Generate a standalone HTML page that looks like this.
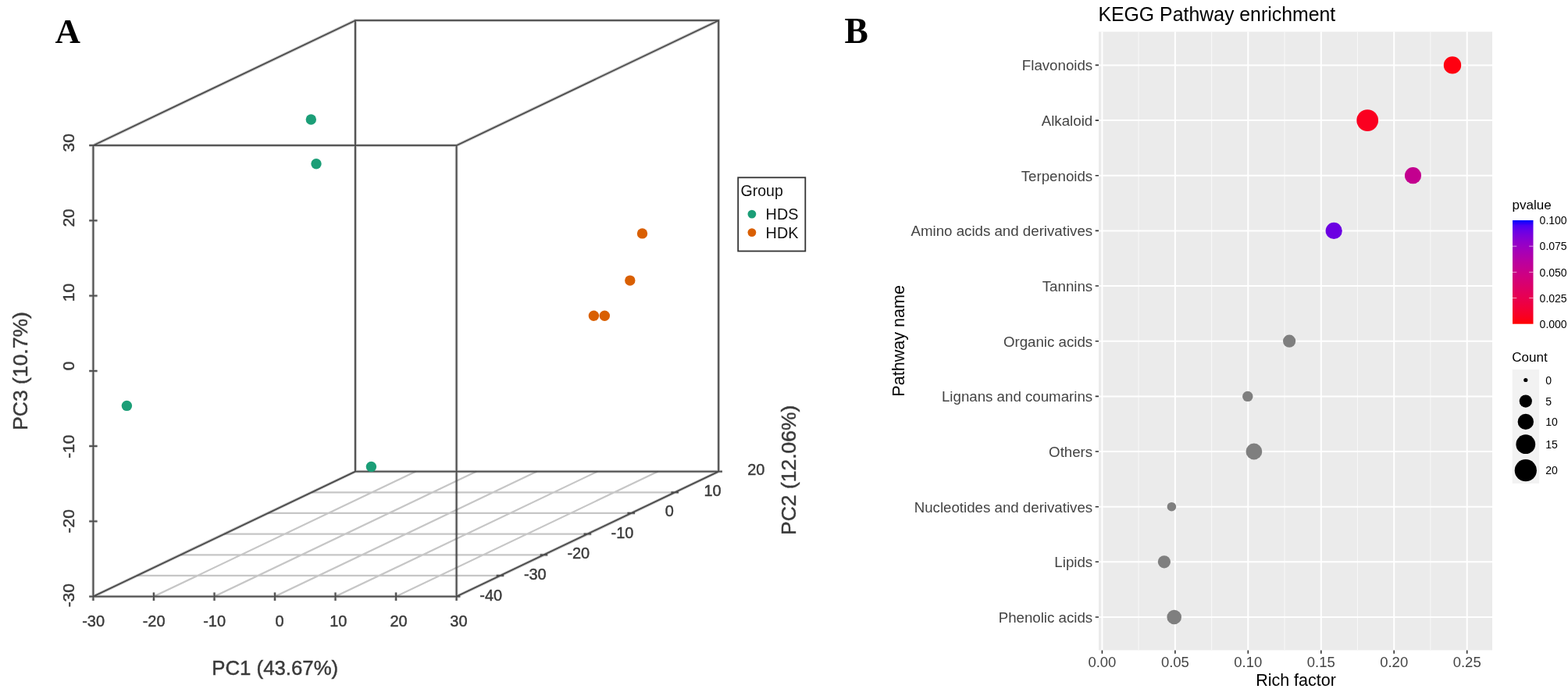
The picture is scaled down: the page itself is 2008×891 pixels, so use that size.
<!DOCTYPE html><html><head><meta charset="utf-8"><title>Figure</title><style>html,body{margin:0;padding:0;background:#fff;overflow:hidden;}svg{display:block;}text{font-family:"Liberation Sans",Arial,sans-serif;}</style></head><body>
<svg width="2008" height="891" viewBox="0 0 2008 891">
<defs><linearGradient id="pg" x1="0" y1="1" x2="0" y2="0">
<stop offset="0.00" stop-color="#ff0000"/>
<stop offset="0.05" stop-color="#fb001a"/>
<stop offset="0.10" stop-color="#f6002a"/>
<stop offset="0.15" stop-color="#f20037"/>
<stop offset="0.20" stop-color="#ed0044"/>
<stop offset="0.25" stop-color="#e80050"/>
<stop offset="0.30" stop-color="#e3005b"/>
<stop offset="0.35" stop-color="#dd0066"/>
<stop offset="0.40" stop-color="#d70072"/>
<stop offset="0.45" stop-color="#d1007d"/>
<stop offset="0.50" stop-color="#ca0088"/>
<stop offset="0.55" stop-color="#c20094"/>
<stop offset="0.60" stop-color="#ba009f"/>
<stop offset="0.65" stop-color="#b000ab"/>
<stop offset="0.70" stop-color="#a600b7"/>
<stop offset="0.75" stop-color="#9a00c3"/>
<stop offset="0.80" stop-color="#8d00ce"/>
<stop offset="0.85" stop-color="#7c00da"/>
<stop offset="0.90" stop-color="#6800e7"/>
<stop offset="0.95" stop-color="#4b00f3"/>
<stop offset="1.00" stop-color="#0000ff"/>
</linearGradient><filter id="bl" filterUnits="userSpaceOnUse" x="0" y="0" width="1060" height="891"><feGaussianBlur stdDeviation="0.8"/></filter></defs>
<rect width="2008" height="891" fill="#fff"/>
<text x="70.6" y="54.8" style="font-family:'Liberation Serif',serif;font-weight:bold;font-size:45px" fill="#000">A</text>
<path d="M196.9 763.6L532.5 603.6M274.5 763.6L610.1 603.6M352.0 763.6L687.6 603.6M429.5 763.6L765.1 603.6M507.1 763.6L842.7 603.6M175.3 736.9L640.5 736.9M231.3 710.3L696.5 710.3M287.2 683.6L752.4 683.6M343.1 656.9L808.3 656.9M399.1 630.3L864.3 630.3" stroke="#c6c6c6" stroke-width="2.2" fill="none"/>
<path d="M119.4 186.2L584.6 186.2L584.6 763.6L119.4 763.6ZM455.0 26.2L920.2 26.2L920.2 603.6L455.0 603.6ZM119.4 186.2L455.0 26.2M584.6 186.2L920.2 26.2M119.4 763.6L455.0 603.6M584.6 763.6L920.2 603.6M119.4 758.6L119.4 769.1M196.9 758.6L196.9 769.1M274.5 758.6L274.5 769.1M352.0 758.6L352.0 769.1M429.5 758.6L429.5 769.1M507.1 758.6L507.1 769.1M584.6 758.6L584.6 769.1M114.2 763.6L124.6 763.6M114.2 667.4L124.6 667.4M114.2 571.1L124.6 571.1M114.2 474.9L124.6 474.9M114.2 378.7L124.6 378.7M114.2 282.4L124.6 282.4M114.2 186.2L124.6 186.2M579.8 763.6L589.4 763.6M635.7 736.9L645.3 736.9M691.7 710.3L701.3 710.3M747.6 683.6L757.2 683.6M803.5 656.9L813.1 656.9M859.5 630.3L869.1 630.3M915.4 603.6L925.0 603.6" stroke="#000" stroke-opacity="0.22" stroke-width="3.8" fill="none"/>
<path d="M119.4 186.2L584.6 186.2L584.6 763.6L119.4 763.6ZM455.0 26.2L920.2 26.2L920.2 603.6L455.0 603.6ZM119.4 186.2L455.0 26.2M584.6 186.2L920.2 26.2M119.4 763.6L455.0 603.6M584.6 763.6L920.2 603.6M119.4 758.6L119.4 769.1M196.9 758.6L196.9 769.1M274.5 758.6L274.5 769.1M352.0 758.6L352.0 769.1M429.5 758.6L429.5 769.1M507.1 758.6L507.1 769.1M584.6 758.6L584.6 769.1M114.2 763.6L124.6 763.6M114.2 667.4L124.6 667.4M114.2 571.1L124.6 571.1M114.2 474.9L124.6 474.9M114.2 378.7L124.6 378.7M114.2 282.4L124.6 282.4M114.2 186.2L124.6 186.2M579.8 763.6L589.4 763.6M635.7 736.9L645.3 736.9M691.7 710.3L701.3 710.3M747.6 683.6L757.2 683.6M803.5 656.9L813.1 656.9M859.5 630.3L869.1 630.3M915.4 603.6L925.0 603.6" stroke="#4a4a4a" stroke-width="1.8" fill="none" stroke-linecap="butt"/>
<circle cx="398.3" cy="153.0" r="6.7" fill="#1b9e77"/>
<circle cx="405.0" cy="209.8" r="6.7" fill="#1b9e77"/>
<circle cx="162.4" cy="519.4" r="6.7" fill="#1b9e77"/>
<circle cx="475.4" cy="597.4" r="6.7" fill="#1b9e77"/>
<circle cx="822.5" cy="298.9" r="6.7" fill="#d95f02"/>
<circle cx="806.8" cy="359.1" r="6.7" fill="#d95f02"/>
<circle cx="760.4" cy="404.2" r="6.7" fill="#d95f02"/>
<circle cx="774.3" cy="404.2" r="6.7" fill="#d95f02"/>
<g stroke="#3a3a3a" stroke-width="0.45">
<text transform="translate(119.60 802.30) scale(0.95 1)" font-size="21" text-anchor="middle" fill="#3a3a3a">-30</text>
<text transform="translate(197.10 802.30) scale(0.95 1)" font-size="21" text-anchor="middle" fill="#3a3a3a">-20</text>
<text transform="translate(274.60 802.30) scale(0.95 1)" font-size="21" text-anchor="middle" fill="#3a3a3a">-10</text>
<text transform="translate(358.00 802.30) scale(0.95 1)" font-size="21" text-anchor="middle" fill="#3a3a3a">0</text>
<text transform="translate(433.30 802.30) scale(0.95 1)" font-size="21" text-anchor="middle" fill="#3a3a3a">10</text>
<text transform="translate(510.50 802.30) scale(0.95 1)" font-size="21" text-anchor="middle" fill="#3a3a3a">20</text>
<text transform="translate(587.40 802.30) scale(0.95 1)" font-size="21" text-anchor="middle" fill="#3a3a3a">30</text>
<text transform="translate(94.90 182.80) rotate(-90)" font-size="21" text-anchor="middle" fill="#3a3a3a">30</text>
<text transform="translate(94.90 278.90) rotate(-90)" font-size="21" text-anchor="middle" fill="#3a3a3a">20</text>
<text transform="translate(94.90 374.50) rotate(-90)" font-size="21" text-anchor="middle" fill="#3a3a3a">10</text>
<text transform="translate(94.90 468.30) rotate(-90)" font-size="21" text-anchor="middle" fill="#3a3a3a">0</text>
<text transform="translate(94.90 571.70) rotate(-90)" font-size="21" text-anchor="middle" fill="#3a3a3a">-10</text>
<text transform="translate(94.90 667.30) rotate(-90)" font-size="21" text-anchor="middle" fill="#3a3a3a">-20</text>
<text transform="translate(94.90 762.20) rotate(-90)" font-size="21" text-anchor="middle" fill="#3a3a3a">-30</text>
<text transform="translate(628.70 769.20) scale(0.95 1)" font-size="21" text-anchor="middle" fill="#3a3a3a">-40</text>
<text transform="translate(685.30 742.30) scale(0.95 1)" font-size="21" text-anchor="middle" fill="#3a3a3a">-30</text>
<text transform="translate(740.80 715.20) scale(0.95 1)" font-size="21" text-anchor="middle" fill="#3a3a3a">-20</text>
<text transform="translate(797.00 689.00) scale(0.95 1)" font-size="21" text-anchor="middle" fill="#3a3a3a">-10</text>
<text transform="translate(857.20 661.40) scale(0.95 1)" font-size="21" text-anchor="middle" fill="#3a3a3a">0</text>
<text transform="translate(912.50 634.90) scale(0.95 1)" font-size="21" text-anchor="middle" fill="#3a3a3a">10</text>
<text transform="translate(968.30 608.20) scale(0.95 1)" font-size="21" text-anchor="middle" fill="#3a3a3a">20</text>
<text transform="translate(352.20 863.60)" font-size="25.8" text-anchor="middle" fill="#3a3a3a">PC1 (43.67%)</text>
<text transform="translate(34.60 475.00) rotate(-90)" font-size="26.5" text-anchor="middle" fill="#3a3a3a">PC3 (10.7%)</text>
<text transform="translate(1019.30 601.80) rotate(-90)" font-size="26.5" text-anchor="middle" fill="#3a3a3a">PC2 (12.06%)</text>
</g>
<rect x="945.2" y="227.3" width="86.1" height="94.2" fill="#fff" stroke="#333" stroke-width="1.8"/>
<text transform="translate(948.60 250.50)" font-size="19.5" fill="#111">Group</text>
<circle cx="962.9" cy="274.1" r="5.4" fill="#1b9e77"/><circle cx="962.9" cy="297.6" r="5.4" fill="#d95f02"/>
<text transform="translate(980.60 281.30)" font-size="19.8" fill="#111">HDS</text>
<text transform="translate(980.60 304.50)" font-size="19.8" fill="#111">HDK</text>
<text x="1081.4" y="54.6" style="font-family:'Liberation Serif',serif;font-weight:bold;font-size:45.5px" fill="#000">B</text>
<rect x="1407.0" y="40.6" width="504.0" height="791.8" fill="#ebebeb"/>
<path d="M1458.1 40.6L1458.1 832.4M1551.6 40.6L1551.6 832.4M1645.0 40.6L1645.0 832.4M1738.5 40.6L1738.5 832.4M1831.9 40.6L1831.9 832.4" stroke="#f7f7f7" stroke-width="1.1" fill="none"/>
<path d="M1411.4 40.6L1411.4 832.4M1504.9 40.6L1504.9 832.4M1598.3 40.6L1598.3 832.4M1691.8 40.6L1691.8 832.4M1785.2 40.6L1785.2 832.4M1878.7 40.6L1878.7 832.4M1407.0 83.4L1911.0 83.4M1407.0 154.1L1911.0 154.1M1407.0 224.7L1911.0 224.7M1407.0 295.4L1911.0 295.4M1407.0 366.0L1911.0 366.0M1407.0 436.7L1911.0 436.7M1407.0 507.4L1911.0 507.4M1407.0 578.0L1911.0 578.0M1407.0 648.7L1911.0 648.7M1407.0 719.3L1911.0 719.3M1407.0 790.0L1911.0 790.0" stroke="#fff" stroke-width="2" fill="none"/>
<circle cx="1860.0" cy="83.4" r="11.2" fill="#ff0010"/>
<circle cx="1751.2" cy="154.1" r="13.9" fill="#fa0020"/>
<circle cx="1809.5" cy="224.7" r="10.6" fill="#c3008f"/>
<circle cx="1708.2" cy="295.4" r="10.6" fill="#6c00e2"/>
<circle cx="1651.1" cy="436.7" r="8.1" fill="#7f7f7f"/>
<circle cx="1597.8" cy="507.4" r="6.7" fill="#7f7f7f"/>
<circle cx="1605.9" cy="578.0" r="10.4" fill="#7f7f7f"/>
<circle cx="1500.4" cy="648.7" r="5.8" fill="#7f7f7f"/>
<circle cx="1490.9" cy="719.3" r="8.1" fill="#7f7f7f"/>
<circle cx="1503.7" cy="790.0" r="9.3" fill="#7f7f7f"/>
<path d="M1402.7 83.4L1407.0 83.4M1402.7 154.1L1407.0 154.1M1402.7 224.7L1407.0 224.7M1402.7 295.4L1407.0 295.4M1402.7 366.0L1407.0 366.0M1402.7 436.7L1407.0 436.7M1402.7 507.4L1407.0 507.4M1402.7 578.0L1407.0 578.0M1402.7 648.7L1407.0 648.7M1402.7 719.3L1407.0 719.3M1402.7 790.0L1407.0 790.0M1411.4 832.4L1411.4 836.7M1504.9 832.4L1504.9 836.7M1598.3 832.4L1598.3 836.7M1691.8 832.4L1691.8 836.7M1785.2 832.4L1785.2 836.7M1878.7 832.4L1878.7 836.7" stroke="#333" stroke-width="1.6" fill="none"/>
<text x="1399.2" y="90.4" font-size="18.7" text-anchor="end" fill="#444">Flavonoids</text>
<text x="1399.2" y="161.1" font-size="18.7" text-anchor="end" fill="#444">Alkaloid</text>
<text x="1399.2" y="231.7" font-size="18.7" text-anchor="end" fill="#444">Terpenoids</text>
<text x="1399.2" y="302.4" font-size="18.7" text-anchor="end" fill="#444">Amino acids and derivatives</text>
<text x="1399.2" y="373.0" font-size="18.7" text-anchor="end" fill="#444">Tannins</text>
<text x="1399.2" y="443.7" font-size="18.7" text-anchor="end" fill="#444">Organic acids</text>
<text x="1399.2" y="514.4" font-size="18.7" text-anchor="end" fill="#444">Lignans and coumarins</text>
<text x="1399.2" y="585.0" font-size="18.7" text-anchor="end" fill="#444">Others</text>
<text x="1399.2" y="655.7" font-size="18.7" text-anchor="end" fill="#444">Nucleotides and derivatives</text>
<text x="1399.2" y="726.3" font-size="18.7" text-anchor="end" fill="#444">Lipids</text>
<text x="1399.2" y="797.0" font-size="18.7" text-anchor="end" fill="#444">Phenolic acids</text>
<text x="1411.4" y="854" font-size="18.5" text-anchor="middle" fill="#444">0.00</text>
<text x="1504.9" y="854" font-size="18.5" text-anchor="middle" fill="#444">0.05</text>
<text x="1598.3" y="854" font-size="18.5" text-anchor="middle" fill="#444">0.10</text>
<text x="1691.8" y="854" font-size="18.5" text-anchor="middle" fill="#444">0.15</text>
<text x="1785.2" y="854" font-size="18.5" text-anchor="middle" fill="#444">0.20</text>
<text x="1878.7" y="854" font-size="18.5" text-anchor="middle" fill="#444">0.25</text>
<text transform="translate(1659.50 878.00)" font-size="21.5" text-anchor="middle" fill="#000">Rich factor</text>
<text transform="translate(1157.90 436.30) rotate(-90)" font-size="21.6" text-anchor="middle" fill="#000">Pathway name</text>
<text transform="translate(1406.40 26.90)" font-size="24.85" fill="#000">KEGG Pathway enrichment</text>
<text transform="translate(1936.50 267.60)" font-size="17" fill="#000">pvalue</text>
<rect x="1937" y="282" width="26.5" height="132.7" fill="url(#pg)"/>
<path d="M1937 315.2L1942.3 315.2M1958.2 315.2L1963.5 315.2M1937 348.4L1942.3 348.4M1958.2 348.4L1963.5 348.4M1937 381.5L1942.3 381.5M1958.2 381.5L1963.5 381.5" stroke="#fff" stroke-width="1" opacity="0.6" fill="none"/>
<text transform="translate(1971.60 287.30)" font-size="14" fill="#000">0.100</text>
<text transform="translate(1971.60 320.40)" font-size="14" fill="#000">0.075</text>
<text transform="translate(1971.60 353.50)" font-size="14" fill="#000">0.050</text>
<text transform="translate(1971.60 386.60)" font-size="14" fill="#000">0.025</text>
<text transform="translate(1971.60 419.70)" font-size="14" fill="#000">0.000</text>
<text transform="translate(1936.30 463.10)" font-size="17" fill="#000">Count</text>
<rect x="1936.7" y="473.1" width="34.4" height="145.8" fill="#f2f2f2"/>
<circle cx="1953.8" cy="486.5" r="2.6" fill="#000"/>
<text transform="translate(1979.30 491.60)" font-size="14" fill="#000">0</text>
<circle cx="1953.8" cy="513.6" r="8.1" fill="#000"/>
<text transform="translate(1979.30 518.70)" font-size="14" fill="#000">5</text>
<circle cx="1953.8" cy="539.9" r="10.2" fill="#000"/>
<text transform="translate(1979.30 545.00)" font-size="14" fill="#000">10</text>
<circle cx="1953.8" cy="568.7" r="12.4" fill="#000"/>
<text transform="translate(1979.30 573.80)" font-size="14" fill="#000">15</text>
<circle cx="1953.8" cy="602.2" r="14.1" fill="#000"/>
<text transform="translate(1979.30 607.30)" font-size="14" fill="#000">20</text>
</svg></body></html>
